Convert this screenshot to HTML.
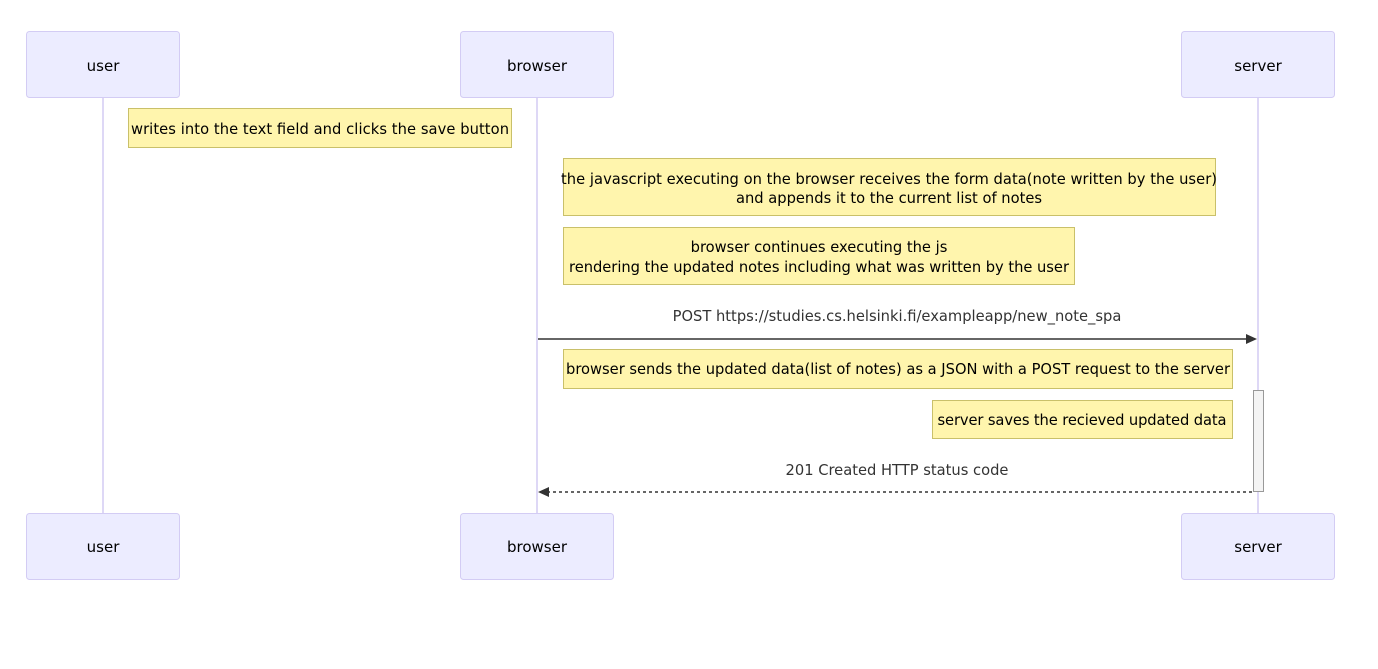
<!DOCTYPE html>
<html><head><meta charset="utf-8"><style>
body{margin:0;background:#fff;width:1378px;height:664px;overflow:hidden}
svg text{font-family:"Trebuchet MS","DejaVu Sans","Liberation Sans",sans-serif}
</style></head><body>
<svg width="1378" height="664" xmlns="http://www.w3.org/2000/svg">
<g stroke="#d3ccf4" stroke-width="1.5"><line x1="103" y1="97" x2="103" y2="513"/><line x1="537" y1="97" x2="537" y2="513"/><line x1="1258" y1="97" x2="1258" y2="513"/></g>
<g fill="#ececff" stroke="#d3ccf4">
<rect x="26.5" y="31.5" width="153" height="66" rx="3"/><rect x="460.5" y="31.5" width="153" height="66" rx="3"/><rect x="1181.5" y="31.5" width="153" height="66" rx="3"/>
<rect x="26.5" y="513.5" width="153" height="66" rx="3"/><rect x="460.5" y="513.5" width="153" height="66" rx="3"/><rect x="1181.5" y="513.5" width="153" height="66" rx="3"/>
</g>
<g font-size="15" fill="#000" text-anchor="middle">
<text x="103" y="71">user</text><text x="537" y="71">browser</text><text x="1258" y="71">server</text>
<text x="103" y="552">user</text><text x="537" y="552">browser</text><text x="1258" y="552">server</text>
</g>
<g fill="#fff5ad" stroke="#c9c06a">
<rect x="128.5" y="108.5" width="383" height="39"/>
<rect x="563.5" y="158.5" width="652" height="57"/>
<rect x="563.5" y="227.5" width="511" height="57"/>
<rect x="563.5" y="349.5" width="669" height="39"/>
<rect x="932.5" y="400.5" width="300" height="38"/>
</g>
<rect x="1253.5" y="390.5" width="10" height="101" fill="#f4f4f4" stroke="#999"/>
<g font-size="14.7" fill="#000" text-anchor="middle">
<text x="320" y="134" textLength="378">writes into the text field and clicks the save button</text>
<text x="889" y="184" textLength="656">the javascript executing on the browser receives the form data(note written by the user)</text>
<text x="889" y="203">and appends it to the current list of notes</text>
<text x="819" y="252">browser continues executing the js</text>
<text x="819" y="272" textLength="500">rendering the updated notes including what was written by the user</text>
<text x="898" y="374" textLength="664">browser sends the updated data(list of notes) as a JSON with a POST request to the server</text>
<text x="1082" y="425" textLength="289">server saves the recieved updated data</text>
</g>
<g font-size="14.7" fill="#333" text-anchor="middle">
<text x="897" y="321">POST https://studies.cs.helsinki.fi/exampleapp/new_note_spa</text>
<text x="897" y="475">201 Created HTTP status code</text>
</g>
<line x1="538" y1="339" x2="1248" y2="339" stroke="#333" stroke-width="1.5"/>
<polygon points="1257,339 1246,334 1246,344" fill="#333"/>
<line x1="1252" y1="492" x2="548" y2="492" stroke="#333" stroke-width="1.5" stroke-dasharray="3,3"/>
<polygon points="538,492 549,487 549,497" fill="#333"/>
</svg>
</body></html>
